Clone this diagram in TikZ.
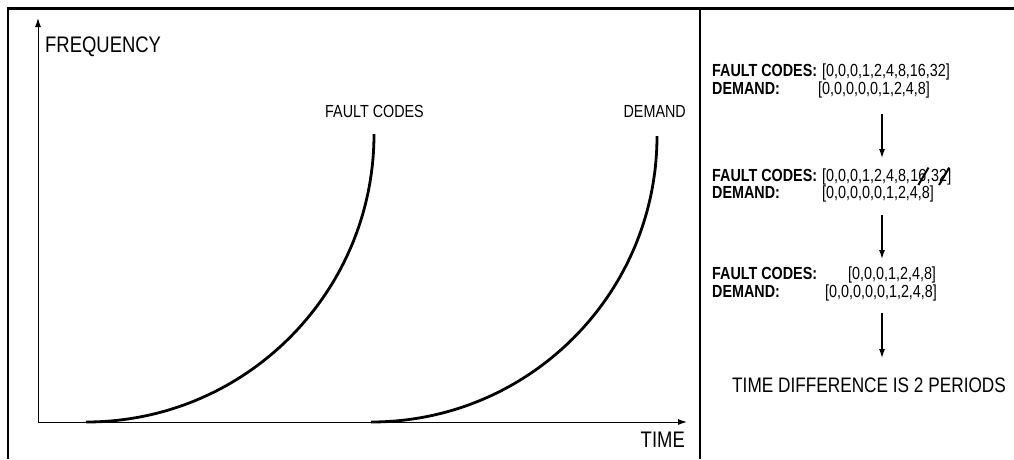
\documentclass[tikz,border=0pt]{standalone}
\usepackage{fontspec}
\setmainfont{Liberation Sans}
\newfontfamily\fcond[FakeStretch=0.82]{Liberation Sans}
\usetikzlibrary{arrows.meta,calc}
\begin{document}
\begin{tikzpicture}[x=1pt,y=1pt,
  lbl/.style={inner sep=0pt,font=\fcond\fontsize{17.5}{20}\selectfont},
  big/.style={inner sep=0pt,font=\fcond\fontsize{22.5}{26}\selectfont},
  key/.style={inner sep=0pt,font=\fcond\bfseries\fontsize{17.5}{20}\selectfont,anchor=base west},
  val/.style={inner sep=0pt,font=\fcond\fontsize{17.5}{20}\selectfont,anchor=base west},
  axis/.style={line width=1pt,-{Latex[length=9pt,width=6pt]}},
  curve/.style={line width=2.8pt},
  flow/.style={line width=1.2pt,-{Latex[length=9pt,width=6pt]}},
  strike/.style={line width=2pt}]
\useasboundingbox (0,0) rectangle (1014,-459);
% frame
\draw[line width=3pt] (7,-8) -- (1014,-8);
\draw[line width=2.5pt] (8,-7) -- (8,-459);
\draw[line width=1.5pt] (700,-7) -- (700,-459);
% axes
\coordinate (O) at (38,-422);
\coordinate (ytop) at (38,-18);
\coordinate (xend) at (687,-422);
\draw[axis] (O) -- (ytop);
\draw[axis] (O) -- (xend);
\node[big,anchor=base west] (freq) at (45,-52) {FREQUENCY};
\node[big,anchor=base east] (time) at (685,-447) {TIME};
% curves
\coordinate (c1s) at (86,-422);
\coordinate (c2s) at (371,-422);
\draw[curve] (c1s) arc[start angle=270,end angle=360,radius=288];
\draw[curve] (c2s) arc[start angle=270,end angle=360,radius=286];
\node[lbl,anchor=base west] (lfc) at (325,-117) {FAULT CODES};
\node[lbl,anchor=base east] (ldm) at (686,-117) {DEMAND};
% right panel block 1
\node[key] (k1) at (712,-76) {FAULT CODES:};
\node[val] (v1) at (822,-76) {[0,0,0,1,2,4,8,16,32]};
\node[key] (d1) at (712,-94) {DEMAND:};
\node[val] (w1) at (818,-94) {[0,0,0,0,0,1,2,4,8]};
\coordinate (a1s) at (882,-114);
\coordinate (a1e) at (882,-158);
\draw[flow] (a1s) -- (a1e);
% block 2
\node[key] (k2) at (712,-181) {FAULT CODES:};
\node[val] (v2) at (822,-181) {[0,0,0,1,2,4,8,};
\node[val] (n16) at (v2.base east) {16};
\node[val] (c16) at (n16.base east) {,};
\node[val] (n32) at (c16.base east) {32};
\node[val] (e32) at (n32.base east) {]};
\draw[strike] ($(n16.base)+(0,-4)$) -- ($(n16.north east)+(2,1)$);
\draw[strike] ($(n32.base)+(0,-4)$) -- ($(n32.north east)+(2,1)$);
\node[key] (d2) at (712,-198) {DEMAND:};
\node[val] (w2) at (822,-198) {[0,0,0,0,0,1,2,4,8]};
\coordinate (a2s) at (882,-215);
\coordinate (a2e) at (882,-259);
\draw[flow] (a2s) -- (a2e);
% block 3
\node[key] (k3) at (712,-279) {FAULT CODES:};
\node[val] (v3) at (848,-279) {[0,0,0,1,2,4,8]};
\node[key] (d3) at (712,-297) {DEMAND:};
\node[val] (w3) at (825,-297) {[0,0,0,0,0,1,2,4,8]};
\coordinate (a3s) at (882,-313);
\coordinate (a3e) at (882,-358);
\draw[flow] (a3s) -- (a3e);
\node[inner sep=0pt,font=\fcond\fontsize{21}{24}\selectfont,anchor=base west] (td) at (732,-392) {TIME DIFFERENCE IS 2 PERIODS};
\end{tikzpicture}
\end{document}
